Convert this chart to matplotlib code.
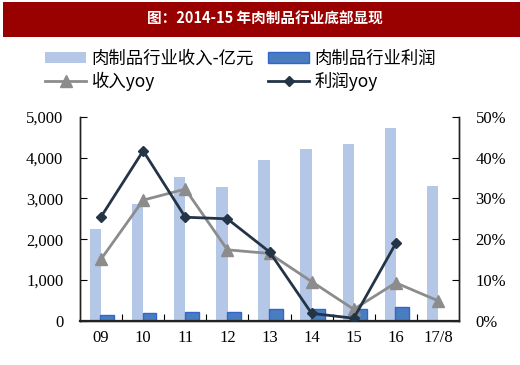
"""Meat products industry revenue / profit with yoy growth (2009 - 2017/8)."""

import matplotlib

matplotlib.use("Agg")

import matplotlib.pyplot as plt  # noqa: E402
import numpy as np  # noqa: E402
from matplotlib.patches import Rectangle  # noqa: E402
from matplotlib.ticker import FuncFormatter, MultipleLocator  # noqa: E402

plt.rcParams["font.family"] = ["Liberation Serif", "Noto Sans CJK SC", "DejaVu Sans"]

YEARS = ["09", "10", "11", "12", "13", "14", "15", "16", "17/8"]
REVENUE = [2245, 2865, 3535, 3275, 3945, 4215, 4330, 4725, 3315]
PROFIT = [140, 180, 220, 220, 280, 275, 280, 330, np.nan]
REVENUE_YOY = [15.1, 29.6, 32.3, 17.4, 16.5, 9.6, 2.8, 9.3, 4.9]
PROFIT_YOY = [25.5, 41.7, 25.4, 25.0, 16.9, 1.8, 0.6, 19.0, np.nan]

TITLE = "图：2014-15 年肉制品行业底部显现"
LABELS = {
    "revenue": "肉制品行业收入-亿元",
    "profit": "肉制品行业利润",
    "revenue_yoy": "收入yoy",
    "profit_yoy": "利润yoy",
}
COLORS = {
    "revenue": "#B4C7E7",
    "profit": "#4A7CC0",
    "profit_edge": "#3366CC",
    "revenue_yoy": "#8C8C8C",
    "profit_yoy": "#243447",
    "banner": "#990000",
}


def main() -> None:
    fig = plt.figure(figsize=(5.2, 3.65), dpi=100, facecolor="white")

    # red title banner
    fig.patches.append(
        Rectangle((3 / 520, 1 - 37 / 365), 1, 35 / 365, transform=fig.transFigure,
                  facecolor=COLORS["banner"], edgecolor="none", zorder=0)
    )
    fig.text(0.51, 1 - 19 / 365, TITLE, color="white", fontsize=10.5,
             fontweight="bold", ha="center", va="center",
             family=["Noto Sans CJK SC", "DejaVu Sans"])

    ax = fig.add_axes((80 / 520, 44.3 / 365, 379 / 520, 203.7 / 365))
    ax2 = ax.twinx()

    x = np.arange(len(YEARS))
    rev_bars = ax.bar(x - 0.13, REVENUE, 0.27, color=COLORS["revenue"],
                      label=LABELS["revenue"], zorder=2)
    prof_bars = ax.bar(x + 0.15, PROFIT, 0.33, color=COLORS["profit"],
                       edgecolor=COLORS["profit_edge"], linewidth=1.0,
                       label=LABELS["profit"], zorder=3)

    ax.set_xlim(-0.5, len(YEARS) - 0.5)
    ax.set_ylim(0, 5000)
    ax.yaxis.set_major_locator(MultipleLocator(1000))
    ax.yaxis.set_major_formatter(FuncFormatter(lambda v, _: f"{v:,.0f}"))
    ax.set_xticks(x)
    ax.set_xticklabels(YEARS)
    ax.set_xticks(np.arange(0.5, len(YEARS) - 0.5), minor=True)
    ax.tick_params(axis="x", which="major", length=0, pad=7, labelsize=12)
    ax.tick_params(axis="x", which="minor", direction="in", length=5, width=0.8)
    ax.tick_params(axis="y", direction="in", length=5, width=0.8, pad=12, labelsize=12)

    rev_line, = ax2.plot(x, REVENUE_YOY, color=COLORS["revenue_yoy"], linewidth=2,
                         marker="^", markersize=8, label=LABELS["revenue_yoy"], zorder=4)
    prof_line, = ax2.plot(x, PROFIT_YOY, color=COLORS["profit_yoy"], linewidth=2,
                          marker="D", markersize=5, label=LABELS["profit_yoy"], zorder=5)
    ax2.set_ylim(0, 50)
    ax2.yaxis.set_major_locator(MultipleLocator(10))
    ax2.yaxis.set_major_formatter(FuncFormatter(lambda v, _: f"{v:.0f}%"))
    ax2.tick_params(axis="y", direction="in", length=5, width=0.8, pad=12, labelsize=12)

    ax.set_zorder(ax2.get_zorder() - 1)
    ax.patch.set_visible(False)
    for a in (ax, ax2):
        a.spines["top"].set_visible(False)
        for side in ("left", "right", "bottom"):
            a.spines[side].set_linewidth(1.0)
            a.spines[side].set_color("#222222")
    ax2.spines["bottom"].set_linewidth(1.6)

    fig.legend(
        [rev_bars, rev_line, prof_bars, prof_line],
        [LABELS["revenue"], LABELS["revenue_yoy"], LABELS["profit"], LABELS["profit_yoy"]],
        ncol=2,
        loc="upper left",
        bbox_to_anchor=(36 / 520, 1 - 41 / 365),
        frameon=False,
        handlelength=2.4,
        handleheight=0.6,
        handletextpad=0.3,
        columnspacing=0.8,
        labelspacing=0.25,
        borderpad=0,
        prop={"family": ["Noto Sans CJK SC", "DejaVu Sans"], "size": 12.5},
    )

    fig.savefig("out.png", dpi=100, facecolor="white")
    plt.close(fig)


if __name__ == "__main__":
    main()
